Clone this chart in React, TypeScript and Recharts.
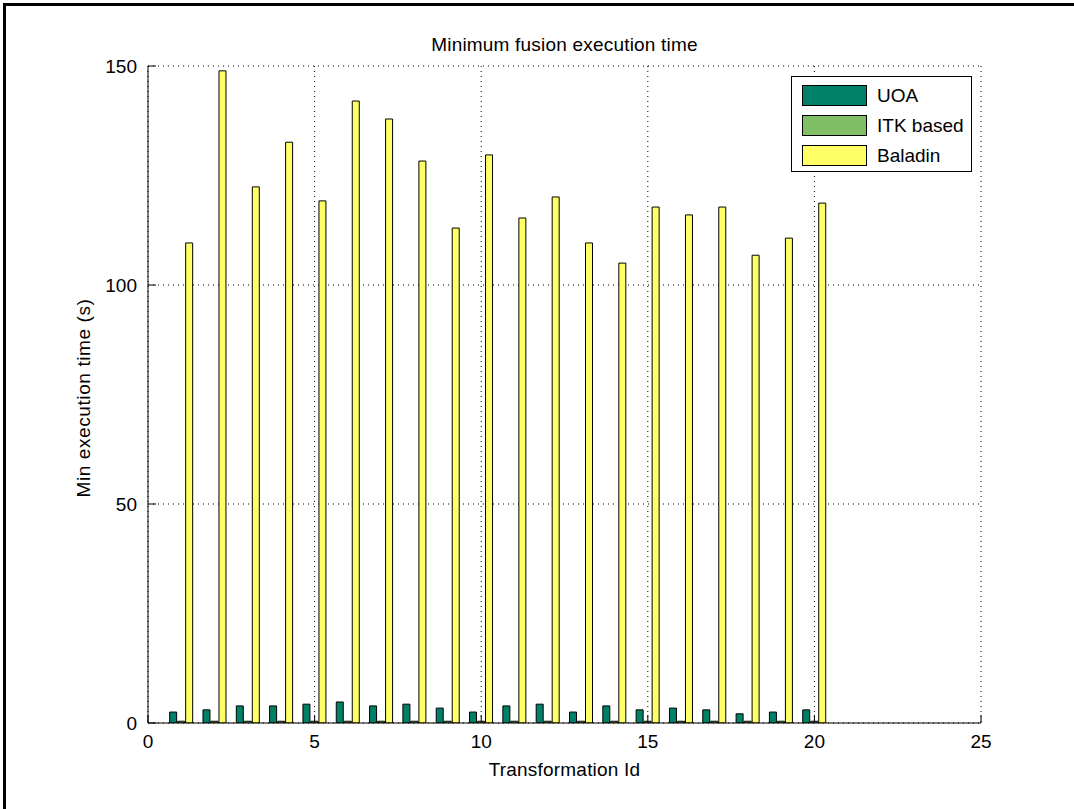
import React from 'react';
import { BarChart, Bar, XAxis, YAxis, CartesianGrid, Legend } from 'recharts';

const transformationIds = [1, 2, 3, 4, 5, 6, 7, 8, 9, 10, 11, 12, 13, 14, 15, 16, 17, 18, 19, 20];
const uoaValues = [2.5, 3.0, 3.9, 3.9, 4.3, 4.8, 3.9, 4.3, 3.4, 2.5, 3.9, 4.3, 2.5, 3.9, 3.0, 3.4, 3.0, 2.1, 2.5, 3.0];
const itkValues = [0.4, 0.4, 0.4, 0.4, 0.4, 0.4, 0.4, 0.4, 0.4, 0.4, 0.4, 0.4, 0.4, 0.4, 0.4, 0.4, 0.4, 0.4, 0.4, 0.4];
const baladinValues = [109.6, 148.9, 122.4, 132.6, 119.2, 142.0, 137.9, 128.3, 113.0, 129.7, 115.3, 120.1, 109.6, 105.0, 117.8, 116.0, 117.8, 106.8, 110.7, 118.7];
const xTicks = [0, 5, 10, 15, 20, 25];
const yTicks = [0, 50, 100, 150];
const seriesNames = ['UOA', 'ITK based', 'Baladin'];
const seriesColors = ['#008066', '#80BF66', '#FFFF66'];

const data = transformationIds.map((id, i) => ({
  id,
  uoa: uoaValues[i],
  itk: itkValues[i],
  baladin: baladinValues[i],
}));

const FONT = '"Liberation Sans", Arial, sans-serif';
const tickStyle = { fill: '#000', fontSize: 19, fontFamily: FONT };

const renderLegend = (props: any) => {
  const payload = [...(props.payload || [])].sort(
    (a: any, b: any) => seriesNames.indexOf(a.value) - seriesNames.indexOf(b.value)
  );
  return (
    <div
      style={{
        width: 181,
        height: 96,
        boxSizing: 'border-box',
        border: '1px solid #000',
        background: '#fff',
        position: 'relative',
        fontFamily: FONT,
        fontSize: 19,
        color: '#000',
      }}
    >
      {payload.map((entry: any, i: number) => (
        <div key={i} style={{ position: 'absolute', left: 10, top: 7 + i * 30, height: 23, display: 'flex', alignItems: 'center' }}>
          <div style={{ width: 65, height: 21, boxSizing: 'border-box', border: '1.5px solid #000', background: entry.color }} />
          <span style={{ marginLeft: 10, lineHeight: '23px' }}>{entry.value}</span>
        </div>
      ))}
    </div>
  );
};

export default function App() {
  return (
    <div style={{ position: 'absolute', left: 0, top: 0, width: 1074, height: 809, background: '#fff', overflow: 'hidden' }}>
      <div
        style={{
          position: 'absolute',
          left: 3,
          top: 3,
          width: 1071,
          height: 806,
          borderTop: '3px solid #000',
          borderLeft: '3px solid #000',
          boxSizing: 'border-box',
        }}
      />
      <div style={{ position: 'absolute', left: 0, top: 0 }}>
        <BarChart
          width={1074}
          height={809}
          data={data}
          margin={{ top: 66, right: 93, left: 88, bottom: 26 }}
          barSize={7}
          barGap={1}
        >
          <CartesianGrid stroke="#000" strokeDasharray="1 4" />
          <XAxis
            dataKey="id"
            type="number"
            domain={[0, 25]}
            ticks={xTicks}
            interval={0}
            allowDataOverflow
            height={60}
            tickSize={-8}
            tickMargin={20}
            axisLine={{ stroke: '#000' }}
            tickLine={{ stroke: '#000' }}
            tick={tickStyle}
          />
          <XAxis
            xAxisId="top"
            orientation="top"
            type="number"
            domain={[0, 25]}
            ticks={xTicks}
            interval={0}
            allowDataOverflow
            height={0}
            tickSize={-8}
            tickFormatter={() => ''}
            axisLine={{ stroke: '#000' }}
            tickLine={{ stroke: '#000' }}
          />
          <YAxis
            type="number"
            domain={[0, 150]}
            ticks={yTicks}
            interval={0}
            allowDataOverflow
            width={60}
            tickSize={-8}
            tickMargin={19}
            axisLine={{ stroke: '#000' }}
            tickLine={{ stroke: '#000' }}
            tick={tickStyle}
          />
          <YAxis
            yAxisId="right"
            orientation="right"
            type="number"
            domain={[0, 150]}
            ticks={yTicks}
            interval={0}
            allowDataOverflow
            width={0}
            tickSize={-8}
            tickFormatter={() => ''}
            axisLine={{ stroke: '#000' }}
            tickLine={{ stroke: '#000' }}
          />
          <Legend
            layout="vertical"
            align="center"
            verticalAlign="middle"
            wrapperStyle={{ left: 791, top: 76, width: 181, height: 96 }}
            content={renderLegend}
          />
          <Bar dataKey="uoa" name={seriesNames[0]} fill={seriesColors[0]} stroke="#000" strokeWidth={1} isAnimationActive={false} />
          <Bar dataKey="itk" name={seriesNames[1]} fill={seriesColors[1]} stroke="#000" strokeWidth={1} isAnimationActive={false} />
          <Bar dataKey="baladin" name={seriesNames[2]} fill={seriesColors[2]} stroke="#000" strokeWidth={1} isAnimationActive={false} />
        </BarChart>
      </div>
      <div style={{ position: 'absolute', left: 148, width: 833, top: 33, textAlign: 'center', fontFamily: FONT, fontSize: 19, letterSpacing: 0.2, lineHeight: '24px', color: '#000' }}>
        Minimum fusion execution time
      </div>
      <div style={{ position: 'absolute', left: 148, width: 833, top: 758, textAlign: 'center', fontFamily: FONT, fontSize: 19, letterSpacing: 0.2, lineHeight: '24px', color: '#000' }}>
        Transformation Id
      </div>
      <div
        style={{
          position: 'absolute',
          left: 84 - 150,
          top: 398 - 12,
          width: 300,
          height: 24,
          textAlign: 'center',
          fontFamily: FONT,
          fontSize: 19,
          letterSpacing: 0.6,
          lineHeight: '24px',
          color: '#000',
          transform: 'rotate(-90deg)',
          transformOrigin: '150px 12px',
        }}
      >
        Min execution time (s)
      </div>
    </div>
  );
}
